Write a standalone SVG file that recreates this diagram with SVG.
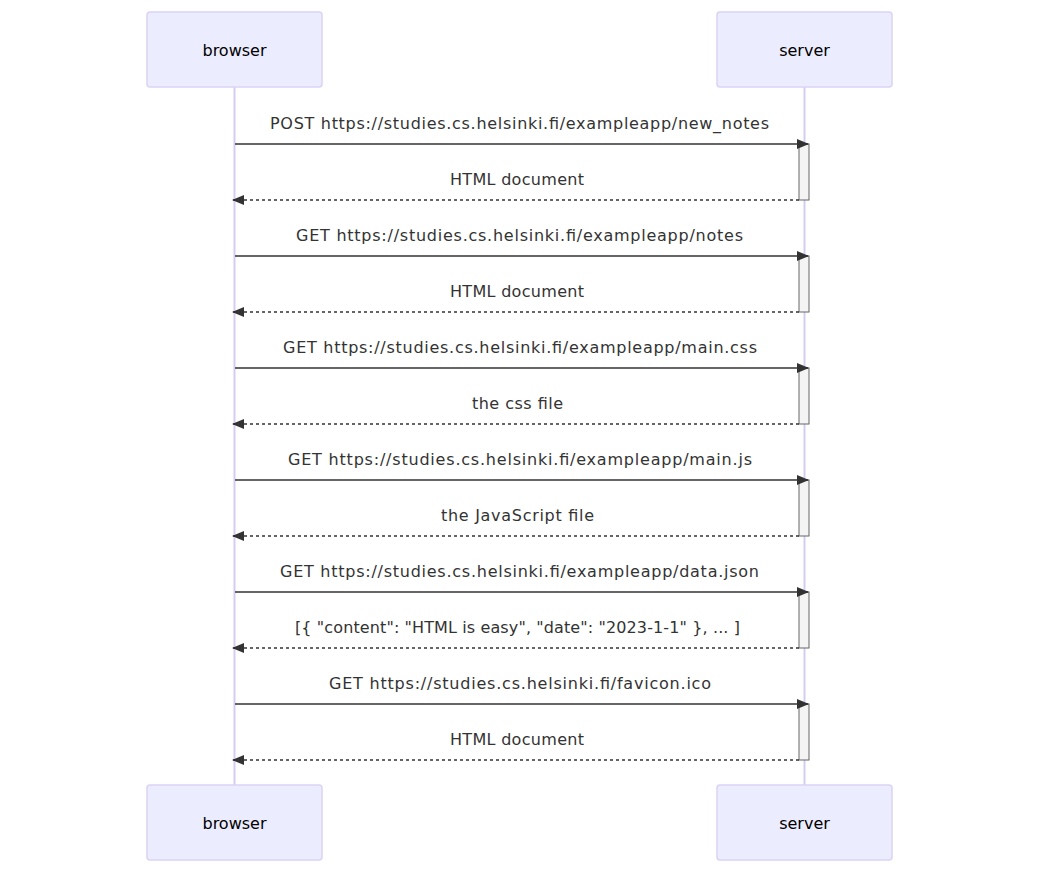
<svg xmlns="http://www.w3.org/2000/svg" width="1039" height="873" viewBox="0 0 1039 873">
<defs>
<marker id="ah" viewBox="0 0 12 10" refX="11" refY="5" markerUnits="userSpaceOnUse" markerWidth="12" markerHeight="10" orient="auto-start-reverse">
<path d="M0,0 L12,5 L0,10 z" fill="#333"/>
</marker>
<style>
.actor{fill:#ececff;stroke:#dcd2f5;stroke-width:1.5}
.atext{font-family:"DejaVu Sans",sans-serif;font-size:16px;fill:#000;text-anchor:middle;dominant-baseline:central}
.life{stroke:#d6ccf2;stroke-width:2}
.act{fill:#f4f4f4;stroke:#666;stroke-width:1}
.msg{stroke:#333;stroke-width:1.5;fill:none;marker-end:url(#ah)}
.dash{stroke-dasharray:3,3}
.mtext{font-family:"DejaVu Sans",sans-serif;font-size:16px;fill:#333;text-anchor:middle}
</style>
</defs>
<rect width="1039" height="873" fill="#fff"/>
<g id="lifelines">
<line class="life" x1="234.5" y1="87" x2="234.5" y2="785"/>
<line class="life" x1="804.5" y1="87" x2="804.5" y2="785"/>
</g>
<g id="browser-top"><rect class="actor" x="147" y="12" width="175" height="75" rx="3"/><text class="atext" x="234.5" y="50">browser</text></g>
<g id="server-top"><rect class="actor" x="717" y="12" width="175" height="75" rx="3"/><text class="atext" x="804.5" y="50">server</text></g>
<g id="browser-bottom"><rect class="actor" x="147" y="785" width="175" height="75" rx="3"/><text class="atext" x="234.5" y="823">browser</text></g>
<g id="server-bottom"><rect class="actor" x="717" y="785" width="175" height="75" rx="3"/><text class="atext" x="804.5" y="823">server</text></g>
<g id="activations">
<rect class="act" x="799" y="144" width="10" height="56"/>
<rect class="act" x="799" y="256" width="10" height="56"/>
<rect class="act" x="799" y="368" width="10" height="56"/>
<rect class="act" x="799" y="480" width="10" height="56"/>
<rect class="act" x="799" y="592" width="10" height="56"/>
<rect class="act" x="799" y="704" width="10" height="56"/>
</g>
<g id="connectors">
<line class="msg" x1="235" y1="144" x2="808" y2="144"/>
<line class="msg dash" x1="799" y1="200" x2="233" y2="200"/>
<line class="msg" x1="235" y1="256" x2="808" y2="256"/>
<line class="msg dash" x1="799" y1="312" x2="233" y2="312"/>
<line class="msg" x1="235" y1="368" x2="808" y2="368"/>
<line class="msg dash" x1="799" y1="424" x2="233" y2="424"/>
<line class="msg" x1="235" y1="480" x2="808" y2="480"/>
<line class="msg dash" x1="799" y1="536" x2="233" y2="536"/>
<line class="msg" x1="235" y1="592" x2="808" y2="592"/>
<line class="msg dash" x1="799" y1="648" x2="233" y2="648"/>
<line class="msg" x1="235" y1="704" x2="808" y2="704"/>
<line class="msg dash" x1="799" y1="760" x2="233" y2="760"/>
</g>
<g id="labels">
<text class="mtext" x="519.5" y="129" textLength="499" lengthAdjust="spacing">POST https://studies.cs.helsinki.fi/exampleapp/new_notes</text>
<text class="mtext" x="517" y="185" textLength="134" lengthAdjust="spacing">HTML document</text>
<text class="mtext" x="519.5" y="241" textLength="447" lengthAdjust="spacing">GET https://studies.cs.helsinki.fi/exampleapp/notes</text>
<text class="mtext" x="517" y="297" textLength="134" lengthAdjust="spacing">HTML document</text>
<text class="mtext" x="520" y="353" textLength="474" lengthAdjust="spacing">GET https://studies.cs.helsinki.fi/exampleapp/main.css</text>
<text class="mtext" x="517.5" y="409" textLength="91" lengthAdjust="spacing">the css file</text>
<text class="mtext" x="520" y="465" textLength="464" lengthAdjust="spacing">GET https://studies.cs.helsinki.fi/exampleapp/main.js</text>
<text class="mtext" x="517.5" y="521" textLength="153" lengthAdjust="spacing">the JavaScript file</text>
<text class="mtext" x="519.5" y="577" textLength="479" lengthAdjust="spacing">GET https://studies.cs.helsinki.fi/exampleapp/data.json</text>
<text class="mtext" x="517.5" y="633" textLength="445" lengthAdjust="spacing">[{ "content": "HTML is easy", "date": "2023-1-1" }, ... ]</text>
<text class="mtext" x="520" y="689" textLength="382" lengthAdjust="spacing">GET https://studies.cs.helsinki.fi/favicon.ico</text>
<text class="mtext" x="517" y="745" textLength="134" lengthAdjust="spacing">HTML document</text>
</g>
</svg>
